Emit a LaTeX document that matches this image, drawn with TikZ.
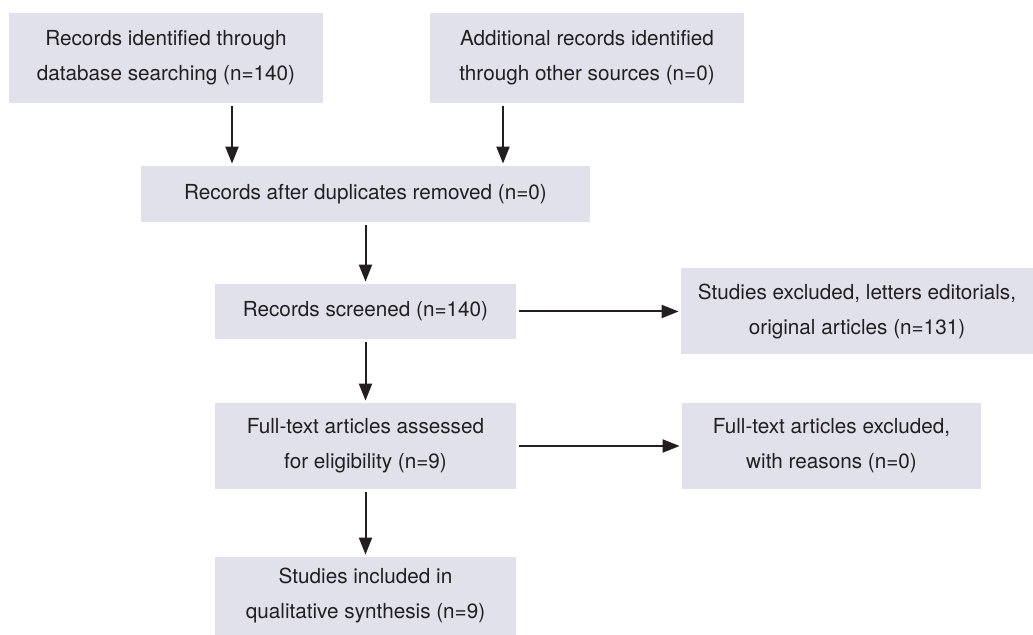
\documentclass[tikz,border=0pt]{standalone}
\usepackage{fontspec}
\setmainfont{TeX Gyre Heros}
\usetikzlibrary{arrows.meta,positioning}

\definecolor{boxfill}{RGB}{225,225,236}
\definecolor{ink}{RGB}{35,31,32}

\tikzset{
  box/.style={fill=boxfill, text=ink, inner sep=0pt, align=center,
    font=\fontsize{10.35}{17.5}\selectfont},
  arr/.style={draw=ink, line width=1pt, -{Triangle[length=8.5pt,width=6.5pt]},
    shorten <=1.5pt, shorten >=1pt}
}

\begin{document}
\begin{tikzpicture}[on grid]
   \useasboundingbox (0,0) rectangle (516.5pt,-317.5pt);
   % identification
   \node[box, minimum width=157pt, minimum height=45pt] (search) at (83pt,-29pt)
      {Records identified through\\database searching (n=140)};
   \node[box, minimum width=157pt, minimum height=45pt] (other) [right=210.5pt of search]
      {Additional records identified\\through other sources (n=0)};
   % screening
   \node[box, minimum width=150.5pt, minimum height=27.5pt] (screen) at (182.75pt,-155.75pt)
      {Records screened (n=140)};
   \node[box, minimum width=224.5pt, minimum height=28pt] (dup) [above=58.75pt of screen]
      {Records after duplicates removed (n=0)};
   \node[box, minimum width=176pt, minimum height=43pt] (excl) [right=245.75pt of screen]
      {Studies excluded, letters editorials,\\original articles (n=131)};
   % eligibility
   \node[box, minimum width=150.5pt, minimum height=43pt] (full) [below=67.25pt of screen]
      {Full-text articles assessed\\for eligibility (n=9)};
   \node[box, minimum width=149.5pt, minimum height=43pt] (fullex) [right=233pt of full]
      {Full-text articles excluded,\\with reasons (n=0)};
   % included
   \node[box, minimum width=150.5pt, minimum height=39pt] (incl) [below=75pt of full]
      {Studies included in\\qualitative synthesis (n=9)};

   \draw[arr] ([xshift=33pt]search.south) -- ([xshift=33pt]search.south |- dup.north);
   \draw[arr] ([xshift=-42pt]other.south) -- ([xshift=-42pt]other.south |- dup.north);
   \draw[arr] (dup.south) -- (screen.north);
   \draw[arr] (screen.east) -- (screen.east -| excl.west);
   \draw[arr] (screen) -- (full);
   \draw[arr] (full.east) -- (full.east -| fullex.west);
   \draw[arr] (full) -- (incl);
\end{tikzpicture}
\end{document}
